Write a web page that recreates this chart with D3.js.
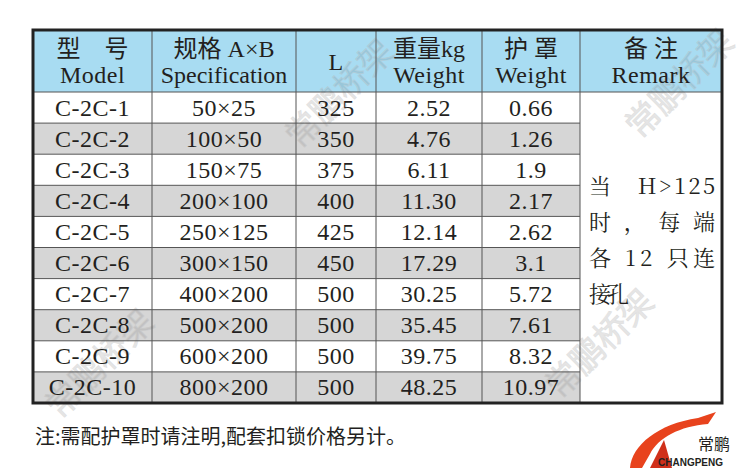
<!DOCTYPE html>
<html><head><meta charset="utf-8">
<script src="https://cdn.jsdelivr.net/npm/d3@7"></script>
<style>body{margin:0;background:#fff}svg text{font-family:"Liberation Serif","Noto Sans CJK SC",serif;fill:#231f20}</style>
</head><body><svg id="c" width="750" height="469"></svg>
<script>
var headCn = ["型　号","规格 A×B","","重量kg","护 罩","备 注"];
var headEn = ["Model","Specification","L","Weight","Weight","Remark"];
var models = ["C-2C-1","C-2C-2","C-2C-3","C-2C-4","C-2C-5","C-2C-6","C-2C-7","C-2C-8","C-2C-9","C-2C-10"];
var specs = ["50×25","100×50","150×75","200×100","250×125","300×150","400×200","500×200","600×200","800×200"];
var lengths = [325,350,375,400,425,450,500,500,500,500];
var weights = ["2.52","4.76","6.11","11.30","12.14","17.29","30.25","35.45","39.75","48.25"];
var covers = ["0.66","1.26","1.9","2.17","2.62","3.1","5.72","7.61","8.32","10.97"];
var remark = ["当　H>125","时，每端","各 12 只连","接孔"];
var remarkW = [126,126,126,40];
var colEdges = [33,152,296,376,482,580,722];

var svg = d3.select("#c");
var x0 = 33, x1 = 722, headTop = 30, headBot = 92, bottom = 403;
var y = d3.scaleBand().domain(d3.range(10)).range([headBot, bottom]);

svg.append("rect").attr("x",x0).attr("y",headTop).attr("width",x1-x0).attr("height",headBot-headTop).attr("fill","#a8dcf2");
svg.selectAll("rect.row").data(d3.range(10)).enter().append("rect")
  .attr("x",x0).attr("y",function(d){return y(d);}).attr("width",colEdges[5]-x0).attr("height",y.bandwidth())
  .attr("fill",function(d){return d%2 ? "#d6d6d6" : "#fff";});

// watermark (behind text)
[[300,150],[560,400],[60,420],[640,140]].forEach(function(p){
  svg.append("text").attr("transform","translate("+p[0]+","+p[1]+") rotate(-45)")
    .attr("font-size",34).attr("fill","#fff").attr("fill-opacity",0.25).attr("stroke","#bbb").attr("stroke-width",0.8).attr("opacity",0.45)
    .attr("style","font-family:'Noto Sans CJK SC',sans-serif").text("常鹏桥架");
});

var g = svg.append("g").attr("stroke","#555").attr("stroke-width",1);
colEdges.slice(1,-1).forEach(function(cx){
  g.append("line").attr("x1",cx).attr("x2",cx).attr("y1",headTop).attr("y2",bottom);
});
d3.range(10).forEach(function(i){
  g.append("line").attr("x1",x0).attr("x2",i==0?x1:colEdges[5]).attr("y1",y(i)).attr("y2",y(i));
});
svg.append("rect").attr("x",x0).attr("y",headTop).attr("width",x1-x0).attr("height",bottom-headTop)
  .attr("fill","none").attr("stroke","#222").attr("stroke-width",3);

function mid(i){return (colEdges[i]+colEdges[i+1])/2;}
headCn.forEach(function(t,i){
  if(!t) return;
  svg.append("text").attr("x",mid(i)).attr("y",57).attr("text-anchor","middle").attr("font-size",24).text(t);
});
headEn.forEach(function(t,i){
  svg.append("text").attr("x",mid(i)).attr("y",i==2?70:83).attr("text-anchor","middle").attr("font-size",24)
    .attr("letter-spacing",i==1?0:0.5).text(t);
});
var cols = [models,specs,lengths,weights,covers];
cols.forEach(function(arr,ci){
  svg.selectAll(null).data(arr).enter().append("text")
    .attr("x",mid(ci)).attr("y",function(d,i){return y(i)+y.bandwidth()/2+8;})
    .attr("text-anchor","middle").attr("font-size",24).attr("letter-spacing",0.5).text(function(d){return d;});
});
remark.forEach(function(t,i){
  svg.append("text").attr("x",589).attr("y",194+i*36).attr("font-size",22)
    .attr("textLength",remarkW[i]).attr("lengthAdjust","spacing")
    .attr("style","font-family:'Noto Serif CJK SC','Noto Sans CJK SC',serif").text(t);
});
svg.append("text").attr("x",35).attr("y",444).attr("font-size",20)
  .attr("style","font-family:'Noto Sans CJK SC',sans-serif").text("注:需配护罩时请注明,配套扣锁价格另计。");

var logo = svg.append("g").attr("transform","translate(628,410)");
logo.append("path").attr("d","M2,58 C4,35 30,14 70,8 L88,2 L80,14 C52,16 30,28 22,44 L14,58 Z").attr("fill","#e8431d");
logo.append("path").attr("d","M22,58 L36,30 L44,58 Z").attr("fill","#d0301a");
logo.append("text").attr("x",70).attr("y",40).attr("font-size",16).attr("style","font-family:'Noto Sans CJK SC',sans-serif").text("常鹏");
logo.append("text").attr("x",30).attr("y",56).attr("font-size",10).attr("font-weight","bold").attr("style","font-family:'Liberation Sans',sans-serif").text("CHANGPENG");
</script></body></html>
